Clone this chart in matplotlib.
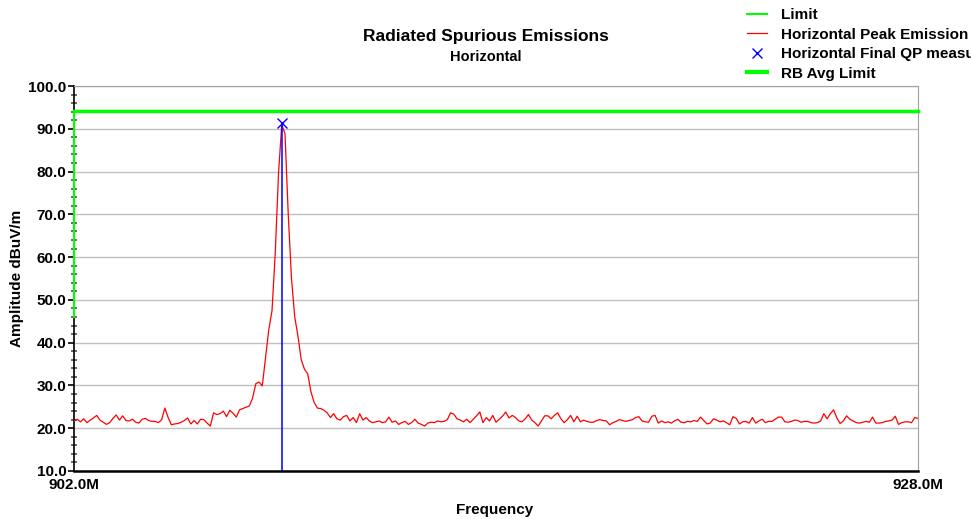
import numpy as np
import matplotlib
matplotlib.use('Agg')
import matplotlib.pyplot as plt
from matplotlib.lines import Line2D
from matplotlib.ticker import MultipleLocator

plt.rcParams['font.family'] = ['Liberation Sans', 'DejaVu Sans']
plt.rcParams['font.weight'] = 'bold'

# sweep data (0.1 MHz steps, 902 -> 928 MHz)
peak_amp = [
    21.7, 22.1, 21.5, 22.2, 21.3, 21.9, 22.4, 23.0, 21.9, 21.4,
    20.9, 21.3, 22.3, 23.1, 21.9, 22.9, 21.8, 21.7, 22.1, 21.4,
    21.2, 22.1, 22.3, 21.8, 21.6, 21.6, 21.3, 22.0, 24.7, 22.5,
    20.8, 21.0, 21.1, 21.4, 21.8, 22.4, 21.0, 21.8, 21.0, 22.1,
    22.0, 21.2, 20.5, 23.6, 23.2, 23.4, 24.0, 22.7, 24.2, 23.5,
    22.6, 24.3, 24.6, 24.9, 25.2, 27.0, 30.4, 30.8, 29.9, 36.5,
    43.0, 47.5, 61.0, 79.5, 91.0, 88.8, 70.0, 55.0, 46.0, 41.5,
    36.0, 33.8, 32.7, 28.5, 26.0, 24.7, 24.6, 24.2, 23.6, 22.5,
    23.4, 22.2, 21.9, 22.7, 23.0, 21.7, 22.5, 21.3, 23.4, 21.9,
    22.5, 21.7, 21.3, 21.5, 21.7, 21.3, 21.5, 22.6, 21.4, 21.7,
    20.9, 21.3, 21.6, 20.9, 21.3, 22.1, 21.2, 20.9, 20.5, 21.2,
    21.4, 21.3, 21.7, 21.5, 21.6, 22.0, 23.6, 23.3, 22.2, 21.9,
    21.5, 22.1, 21.3, 22.1, 22.9, 23.8, 21.3, 22.5, 21.7, 23.0,
    21.4, 22.1, 22.8, 23.8, 22.4, 23.0, 22.5, 21.7, 21.5, 22.2,
    23.2, 21.9, 21.3, 20.5, 21.7, 22.9, 22.9, 22.2, 23.0, 23.6,
    22.2, 21.3, 22.0, 23.0, 21.5, 22.8, 21.5, 21.9, 21.6, 21.4,
    21.4, 21.8, 22.0, 21.8, 21.7, 20.8, 21.3, 21.6, 22.0, 21.8,
    21.6, 21.8, 22.0, 22.5, 22.7, 21.7, 21.5, 21.4, 22.8, 23.0,
    21.2, 21.7, 21.3, 21.5, 21.2, 21.7, 22.1, 21.4, 21.3, 21.6,
    21.5, 21.8, 21.6, 22.6, 21.8, 21.0, 21.2, 22.2, 21.9, 21.5,
    21.7, 21.3, 20.8, 22.7, 22.3, 21.0, 21.5, 21.6, 21.2, 22.5,
    21.2, 21.7, 22.1, 21.3, 21.6, 21.6, 22.1, 22.6, 22.6, 21.5,
    21.4, 21.6, 21.9, 21.8, 21.4, 21.6, 21.6, 21.3, 21.2, 21.3,
    21.7, 23.4, 22.2, 23.4, 24.3, 22.4, 21.1, 21.7, 22.9, 22.1,
    21.7, 21.3, 21.2, 21.4, 21.6, 21.4, 22.6, 21.2, 21.2, 21.3,
    21.6, 21.7, 21.9, 22.8, 20.9, 21.3, 21.5, 21.5, 21.3, 22.5, 22.3,
]
f_start, f_stop = 902.0, 928.0
peak_freq = np.linspace(f_start, f_stop, len(peak_amp))

# limit lines
limit_freq = [902.0, 902.0, 928.0]
limit_amp = [46.0, 94.2, 94.2]
rb_freq = [902.0, 928.0]
rb_amp = [94.2, 94.2]

# final QP measurement
qp_freq = [908.42]
qp_amp = [91.3]

fig = plt.figure(figsize=(9.71, 5.19), dpi=100)
ax = fig.add_axes([74/971, 1 - 471/519, (918-74)/971, (471-86)/519])

ax.grid(axis='y', color='#c0c0c0', lw=1)
ax.set_axisbelow(True)

ax.plot(peak_freq, peak_amp, color='#ff0000', lw=0.9, zorder=3)
ax.vlines(qp_freq, 10, qp_amp, color='#0000ff', lw=1.1, zorder=4)
ax.plot(qp_freq, qp_amp, 'x', color='#0000ff', ms=7, mew=1.0, zorder=5)
ax.plot(rb_freq, rb_amp, color='#00ff00', lw=2.5, zorder=4, clip_on=False)
ax.plot(limit_freq, limit_amp, color='#00ff00', lw=1.5, zorder=4, clip_on=False)

ax.set_xlim(f_start, f_stop)
ax.set_ylim(10, 100)
ax.set_xticks([f_start, f_stop])
ax.set_xticklabels(['902.0M', '928.0M'])
ax.yaxis.set_major_locator(MultipleLocator(10))
ax.yaxis.set_minor_locator(MultipleLocator(2))
ax.set_yticklabels(['%.1f' % v for v in ax.get_yticks()])
ax.tick_params(axis='x', length=0, pad=5, labelsize=11)
ax.tick_params(axis='y', which='major', length=4, width=1.2, direction='out',
               color='black', pad=1.5, labelsize=11)
ax.tick_params(axis='y', which='minor', length=4, width=1.2, direction='inout',
               color='#505050')
for lab in ax.get_xticklabels() + ax.get_yticklabels():
    lab.set_fontweight('bold')

ax.spines['left'].set_color('black')
ax.spines['left'].set_linewidth(1.2)
ax.spines['bottom'].set_color('black')
ax.spines['bottom'].set_linewidth(1.8)
ax.spines['top'].set_color('#a0a0a0')
ax.spines['right'].set_color('#a0a0a0')

fig.text(486/971, 1 - 36/519, 'Radiated Spurious Emissions', ha='center', va='center',
         fontsize=12.5, fontweight='bold')
fig.text(486/971, 1 - 57/519, 'Horizontal', ha='center', va='center',
         fontsize=10.5, fontweight='bold')
fig.text(495/971, 1 - 510/519, 'Frequency', ha='center', va='center',
         fontsize=11, fontweight='bold')
fig.text(17/971, 1 - 278/519, 'Amplitude dBuV/m', ha='center', va='center',
         rotation=90, fontsize=11, fontweight='bold')

# legend sits above the plot at the top right and runs off the figure edge, as in the original
handles = [
    Line2D([], [], color='#00ff00', lw=1.5),
    Line2D([], [], color='#ff0000', lw=0.9),
    Line2D([], [], color='#0000ff', lw=0, marker='x', ms=7, mew=1.0),
    Line2D([], [], color='#00ff00', lw=3),
]
labels = ['Limit', 'Horizontal Peak Emission', 'Horizontal Final QP measurement', 'RB Avg Limit']
fig.legend(handles, labels, loc='upper left', bbox_to_anchor=(739/971, 1 - 0.5/519),
           frameon=False, borderpad=0, labelspacing=0.36, handlelength=1.3,
           handletextpad=0.95, prop={'size': 11, 'weight': 'bold'})

fig.savefig('out.png', dpi=100)
